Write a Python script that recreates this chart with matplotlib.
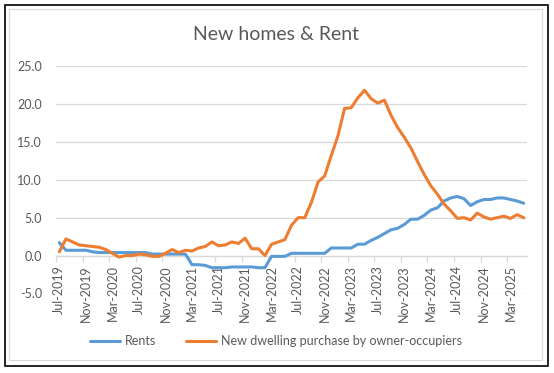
import matplotlib
matplotlib.use("Agg")
import matplotlib.pyplot as plt
from matplotlib.patches import Rectangle
import numpy as np

plt.rcParams['font.family'] = ['Lato', 'DejaVu Sans']

# monthly values, Jul-2019 .. May-2025 (annual % change)
rents = [1.7, 0.7, 0.7, 0.7, 0.7, 0.5, 0.4, 0.4, 0.4, 0.4, 0.4, 0.4, 0.4, 0.4,
         0.2, 0.2, 0.2, 0.2, 0.2, 0.2, -1.2, -1.2, -1.3, -1.6, -1.6, -1.6,
         -1.5, -1.5, -1.5, -1.5, -1.6, -1.6, -0.1, -0.1, -0.1, 0.3, 0.3, 0.3,
         0.3, 0.3, 0.3, 1.0, 1.0, 1.0, 1.0, 1.5, 1.5, 2.0, 2.4, 2.9, 3.4, 3.6,
         4.1, 4.8, 4.8, 5.3, 6.0, 6.3, 7.2, 7.6, 7.8, 7.5, 6.6, 7.1, 7.4, 7.4,
         7.6, 7.6, 7.4, 7.2, 6.9]
new_dwellings = [0.5, 2.2, 1.8, 1.4, 1.3, 1.2, 1.1, 0.8, 0.3, -0.2, 0.0, 0.0,
                 0.2, 0.1, -0.1, -0.1, 0.3, 0.8, 0.4, 0.7, 0.6, 1.0, 1.2, 1.8,
                 1.3, 1.4, 1.8, 1.6, 2.3, 0.9, 0.9, 0.0, 1.5, 1.8, 2.1, 4.0,
                 5.0, 5.0, 7.0, 9.7, 10.5, 13.2, 15.8, 19.4, 19.5, 20.8, 21.8,
                 20.7, 20.1, 20.5, 18.5, 16.9, 15.6, 14.2, 12.4, 10.7, 9.2, 8.1,
                 6.8, 5.9, 4.9, 5.0, 4.7, 5.6, 5.1, 4.8, 5.0, 5.2, 4.9, 5.4, 5.0]
tick_labels = ['Jul-2019', 'Nov-2019', 'Mar-2020', 'Jul-2020', 'Nov-2020',
               'Mar-2021', 'Jul-2021', 'Nov-2021', 'Mar-2022', 'Jul-2022',
               'Nov-2022', 'Mar-2023', 'Jul-2023', 'Nov-2023', 'Mar-2024',
               'Jul-2024', 'Nov-2024', 'Mar-2025']

grey_text = '#595959'
grid_col = '#D9D9D9'

fig = plt.figure(figsize=(5.54, 3.73), dpi=100)

# chart frame: black outer line and light grey chart-area border
fig.patches.append(Rectangle((5 / 554, 1 - 366 / 373), 543 / 554, 361 / 373,
                             transform=fig.transFigure, fill=False,
                             edgecolor='black', linewidth=1.2, zorder=0))
fig.patches.append(Rectangle((9 / 554, 1 - 360 / 373), 533 / 554, 351 / 373,
                             transform=fig.transFigure, fill=False,
                             edgecolor=grid_col, linewidth=0.8, zorder=0))

ax = fig.add_axes([56 / 554, 1 - 293.5 / 373, 471 / 554, 227.5 / 373])

x = np.arange(len(rents))
ax.plot(x, rents, color='#5B9BD5', lw=2.2, solid_joinstyle='round',
        solid_capstyle='round', label='Rents', zorder=3)
ax.plot(x, new_dwellings, color='#ED7D31', lw=2.2, solid_joinstyle='round',
        solid_capstyle='round',
        label='New dwelling purchase by owner-occupiers', zorder=3)

ax.set_xlim(-0.5, len(rents) - 0.5)
ax.set_ylim(-5, 25)
ax.set_yticks(np.arange(-5, 26, 5))
ax.set_yticklabels([f'{v:.1f}' for v in np.arange(-5, 26, 5)])
ax.grid(axis='y', color=grid_col, lw=0.9)
ax.set_axisbelow(True)

for s in ['top', 'right', 'left']:
    ax.spines[s].set_visible(False)
ax.spines['bottom'].set_position(('data', 0))
ax.spines['bottom'].set_color(grid_col)
ax.spines['bottom'].set_linewidth(0.9)

ax.set_xticks(np.arange(0, len(rents), 4))
ax.set_xticklabels(tick_labels, rotation=90, ha='center', va='top')
ax.set_xticks(np.arange(-0.5, len(rents), 4), minor=True)
ax.tick_params(axis='x', which='major', length=0, pad=7, labelsize=9,
               labelcolor=grey_text)
ax.tick_params(axis='x', which='minor', length=4, color=grid_col, width=0.9)
ax.tick_params(axis='y', length=0, pad=10, labelsize=9, labelcolor=grey_text)

fig.text(276 / 554, 1 - 34.5 / 373, 'New homes & Rent', ha='center',
         va='center', fontsize=14, color=grey_text)

leg = fig.legend(loc='center', bbox_to_anchor=(276 / 554, 1 - 341 / 373),
                 ncol=2, frameon=False, fontsize=9, handlelength=2.4,
                 handletextpad=0.4, columnspacing=2.4)
for t in leg.get_texts():
    t.set_color(grey_text)

fig.savefig('out.png', dpi=100)
